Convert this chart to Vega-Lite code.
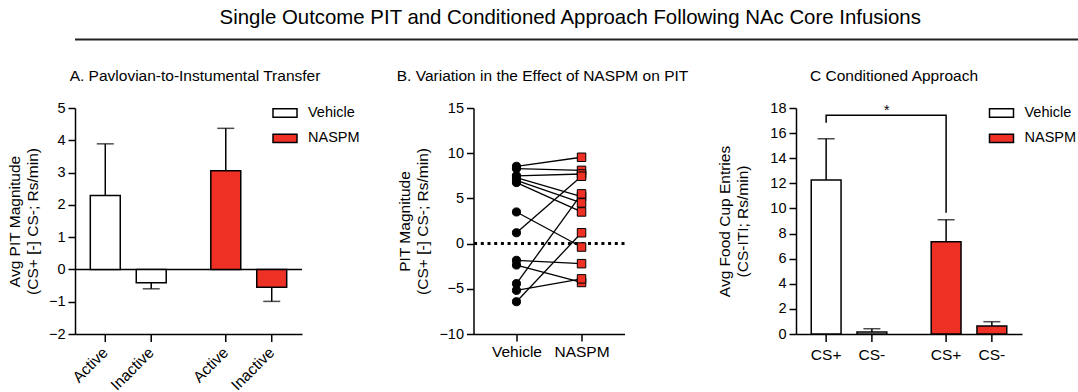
{
  "$schema": "https://vega.github.io/schema/vega-lite/v6.json",
  "background": "white",
  "padding": {"left": 7, "right": 3, "top": 8, "bottom": 0},
  "config": {
    "font": "Liberation Sans",
    "view": {"stroke": null},
    "axis": {
      "domainColor": "black", "domainWidth": 1.5,
      "tickColor": "black", "tickWidth": 1.5, "tickSize": 7,
      "labelColor": "black", "labelFontSize": 14.5, "labelPadding": 3, "labelOverlap": false,
      "titleColor": "black", "titleFontSize": 15.5, "titleFontWeight": "normal",
      "titleLineHeight": 18, "grid": false
    },
    "legend": {
      "orient": "none", "title": null, "padding": 0,
      "symbolType": "M-1,-0.35H1V0.35H-1Z", "symbolSize": 576,
      "symbolStrokeColor": "black", "symbolStrokeWidth": 1.5,
      "labelFontSize": 14.5, "labelColor": "black", "labelOffset": 10, "rowPadding": 4.4
    },
    "title": {"fontWeight": "normal", "color": "black", "fontSize": 15.5}
  },
  "title": {
    "text": "Single Outcome PIT and Conditioned Approach Following NAc Core Infusions",
    "fontSize": 20.4, "anchor": "middle", "dx": -5.5, "offset": 10
  },
  "datasets": {
    "pit": [
      {"treatment": "Vehicle", "lever": "Active", "mean": 2.29, "err": 3.89},
      {"treatment": "Vehicle", "lever": "Inactive", "mean": -0.41, "err": -0.6},
      {"treatment": "NASPM", "lever": "Active", "mean": 3.06, "err": 4.37},
      {"treatment": "NASPM", "lever": "Inactive", "mean": -0.55, "err": -0.99}
    ],
    "pairs": [
      {"subject": 1, "group": "Vehicle", "value": 8.55}, {"subject": 1, "group": "NASPM", "value": 9.55},
      {"subject": 2, "group": "Vehicle", "value": 8.3}, {"subject": 2, "group": "NASPM", "value": 8.1},
      {"subject": 3, "group": "Vehicle", "value": 7.5}, {"subject": 3, "group": "NASPM", "value": 7.7},
      {"subject": 4, "group": "Vehicle", "value": 7.3}, {"subject": 4, "group": "NASPM", "value": 5.2},
      {"subject": 5, "group": "Vehicle", "value": 7.0}, {"subject": 5, "group": "NASPM", "value": 4.5},
      {"subject": 6, "group": "Vehicle", "value": 6.75}, {"subject": 6, "group": "NASPM", "value": 3.5},
      {"subject": 7, "group": "Vehicle", "value": 3.5}, {"subject": 7, "group": "NASPM", "value": -0.38},
      {"subject": 8, "group": "Vehicle", "value": 1.2}, {"subject": 8, "group": "NASPM", "value": 7.45},
      {"subject": 9, "group": "Vehicle", "value": -1.85}, {"subject": 9, "group": "NASPM", "value": -2.22},
      {"subject": 10, "group": "Vehicle", "value": -2.37}, {"subject": 10, "group": "NASPM", "value": -4.3},
      {"subject": 11, "group": "Vehicle", "value": -4.43}, {"subject": 11, "group": "NASPM", "value": 5.5},
      {"subject": 12, "group": "Vehicle", "value": -5.17}, {"subject": 12, "group": "NASPM", "value": -3.9},
      {"subject": 13, "group": "Vehicle", "value": -6.43}, {"subject": 13, "group": "NASPM", "value": 1.2}
    ],
    "approach": [
      {"treatment": "Vehicle", "cue": "CS+", "mean": 12.26, "err": 15.55},
      {"treatment": "Vehicle", "cue": "CS-", "mean": 0.15, "err": 0.42},
      {"treatment": "NASPM", "cue": "CS+", "mean": 7.35, "err": 9.1},
      {"treatment": "NASPM", "cue": "CS-", "mean": 0.64, "err": 0.98}
    ],
    "bracket": [
      {"step": 1, "treatment": "Vehicle", "cue": "CS+", "y": 16.83},
      {"step": 2, "treatment": "Vehicle", "cue": "CS+", "y": 17.43},
      {"step": 3, "treatment": "NASPM", "cue": "CS+", "y": 17.43},
      {"step": 4, "treatment": "NASPM", "cue": "CS+", "y": 9.66}
    ],
    "significance": [
      {"treatment": "Vehicle", "y": 17.43, "label": "*"}
    ]
  },
  "vconcat": [
    {
      "width": 1068,
      "height": 1,
      "data": {"values": [{"divider": "header"}]},
      "mark": {"type": "rule", "color": "#222222", "strokeWidth": 2},
      "encoding": {
        "x": {"datum": 0, "type": "quantitative", "scale": {"domain": [0, 1]}, "axis": null},
        "x2": {"datum": 1}
      }
    },
    {
      "hconcat": [
        {
          "width": 227,
          "height": 226,
          "title": {"text": "A. Pavlovian-to-Instumental Transfer", "frame": "group", "offset": 4, "dx": 6.5, "baseline": "alphabetic"},
          "data": {"name": "pit"},
          "layer": [
            {
              "data": {"values": [{"level": 0}]},
              "mark": {"type": "rule", "color": "black", "strokeWidth": 1.5},
              "encoding": {"y": {"field": "level", "type": "quantitative"}}
            },
            {
              "mark": {"type": "bar", "stroke": "black", "strokeWidth": 1.5},
              "encoding": {
                "x": {"field": "treatment", "type": "nominal",
                      "scale": {"domain": ["Vehicle", "NASPM"], "paddingInner": 0.37, "paddingOuter": 0.127},
                      "axis": {"labels": false, "ticks": false, "title": null}},
                "xOffset": {"field": "lever", "type": "nominal",
                            "scale": {"domain": ["Active", "Inactive"], "paddingInner": 0.348, "paddingOuter": 0}},
                "y": {"field": "mean", "type": "quantitative", "scale": {"domain": [-2, 5], "nice": false},
                      "axis": {"values": [-2, -1, 0, 1, 2, 3, 4, 5], "tickCount": 20, "format": "d", "titlePadding": 8,
                               "title": ["Avg PIT Magnitude", "(CS+ [-] CS-; Rs/min)"]}},
                "y2": {"datum": 0},
                "fill": {"field": "treatment", "type": "nominal",
                         "scale": {"domain": ["Vehicle", "NASPM"], "range": ["white", "#ee3124"]},
                         "legend": {"legendX": 197, "legendY": -8}}
              }
            },
            {
              "mark": {"type": "rule", "color": "black", "strokeWidth": 1.5},
              "encoding": {
                "x": {"field": "treatment", "type": "nominal"},
                "xOffset": {"field": "lever", "type": "nominal"},
                "y": {"field": "mean", "type": "quantitative"},
                "y2": {"field": "err"}
              }
            },
            {
              "mark": {"type": "tick", "orient": "horizontal", "color": "black", "thickness": 1.5, "size": 17},
              "encoding": {
                "x": {"field": "treatment", "type": "nominal"},
                "xOffset": {"field": "lever", "type": "nominal"},
                "y": {"field": "err", "type": "quantitative"}
              }
            },
            {
              "mark": {"type": "rule", "color": "black", "strokeWidth": 1.5, "y2Offset": 8},
              "encoding": {
                "x": {"field": "treatment", "type": "nominal"},
                "xOffset": {"field": "lever", "type": "nominal"},
                "y": {"datum": -2},
                "y2": {"datum": -2}
              }
            },
            {
              "mark": {"type": "text", "angle": 315, "align": "right", "baseline": "middle", "yOffset": 16, "fontSize": 15.5, "color": "black"},
              "encoding": {
                "x": {"field": "treatment", "type": "nominal"},
                "xOffset": {"field": "lever", "type": "nominal"},
                "y": {"datum": -2},
                "text": {"field": "lever"}
              }
            }
          ]
        },
        {
          "width": 151,
          "height": 226,
          "title": {"text": "B. Variation in the Effect of NASPM on PIT", "frame": "group", "offset": 4, "dx": -6.5, "baseline": "alphabetic"},
          "layer": [
            {
              "data": {"values": [{"level": 0}]},
              "mark": {"type": "rule", "color": "black", "strokeWidth": 3, "strokeDash": [3, 3.7]},
              "encoding": {"y": {"field": "level", "type": "quantitative"}}
            },
            {
              "data": {"name": "pairs"},
              "mark": {"type": "line", "color": "black", "strokeWidth": 1.3},
              "encoding": {
                "x": {"field": "group", "type": "nominal",
                      "scale": {"type": "point", "domain": ["Vehicle", "NASPM"], "padding": 0.66},
                      "axis": {"title": null, "labelAngle": 0, "labelFontSize": 15.5}},
                "y": {"field": "value", "type": "quantitative", "scale": {"domain": [-10, 15], "nice": false},
                      "axis": {"values": [-10, -5, 0, 5, 10, 15], "tickCount": 20, "format": "d", "titlePadding": 8,
                               "title": ["PIT Magnitude", "(CS+ [-] CS-; Rs/min)"]}},
                "detail": {"field": "subject", "type": "nominal"}
              }
            },
            {
              "data": {"name": "pairs"},
              "mark": {"type": "point", "filled": true, "opacity": 1, "stroke": "black", "strokeWidth": 1},
              "encoding": {
                "x": {"field": "group", "type": "nominal"},
                "y": {"field": "value", "type": "quantitative"},
                "shape": {"field": "group", "type": "nominal", "scale": {"domain": ["Vehicle", "NASPM"], "range": ["circle", "square"]}, "legend": null},
                "fill": {"field": "group", "type": "nominal", "scale": {"domain": ["Vehicle", "NASPM"], "range": ["black", "#ee3124"]}, "legend": null},
                "size": {"field": "group", "type": "nominal", "scale": {"domain": ["Vehicle", "NASPM"], "range": [66, 72]}, "legend": null}
              }
            }
          ]
        },
        {
          "width": 226,
          "height": 226,
          "title": {"text": "C Conditioned Approach", "frame": "group", "offset": 4, "dx": -15, "baseline": "alphabetic"},
          "data": {"name": "approach"},
          "layer": [
            {
              "mark": {"type": "bar", "stroke": "black", "strokeWidth": 1.5},
              "encoding": {
                "x": {"field": "treatment", "type": "nominal",
                      "scale": {"domain": ["Vehicle", "NASPM"], "paddingInner": 0.37, "paddingOuter": 0.127},
                      "axis": {"labels": false, "ticks": false, "title": null}},
                "xOffset": {"field": "cue", "type": "nominal",
                            "scale": {"domain": ["CS+", "CS-"], "paddingInner": 0.348, "paddingOuter": 0}},
                "y": {"field": "mean", "type": "quantitative", "scale": {"domain": [0, 18], "nice": false},
                      "axis": {"values": [0, 2, 4, 6, 8, 10, 12, 14, 16, 18], "tickCount": 20, "format": "d", "titlePadding": 19,
                               "title": ["Avg Food Cup Entries", "(CS-ITI; Rs/min)"]}},
                "y2": {"datum": 0},
                "fill": {"field": "treatment", "type": "nominal",
                         "scale": {"domain": ["Vehicle", "NASPM"], "range": ["white", "#ee3124"]},
                         "legend": {"legendX": 192.5, "legendY": -8}}
              }
            },
            {
              "mark": {"type": "rule", "color": "black", "strokeWidth": 1.5},
              "encoding": {
                "x": {"field": "treatment", "type": "nominal"},
                "xOffset": {"field": "cue", "type": "nominal"},
                "y": {"field": "mean", "type": "quantitative"},
                "y2": {"field": "err"}
              }
            },
            {
              "mark": {"type": "tick", "orient": "horizontal", "color": "black", "thickness": 1.5, "size": 17},
              "encoding": {
                "x": {"field": "treatment", "type": "nominal"},
                "xOffset": {"field": "cue", "type": "nominal"},
                "y": {"field": "err", "type": "quantitative"}
              }
            },
            {
              "mark": {"type": "rule", "color": "black", "strokeWidth": 1.5, "y2Offset": 8},
              "encoding": {
                "x": {"field": "treatment", "type": "nominal"},
                "xOffset": {"field": "cue", "type": "nominal"},
                "y": {"datum": 0},
                "y2": {"datum": 0}
              }
            },
            {
              "mark": {"type": "text", "align": "center", "baseline": "top", "yOffset": 14, "fontSize": 15.5, "color": "black"},
              "encoding": {
                "x": {"field": "treatment", "type": "nominal"},
                "xOffset": {"field": "cue", "type": "nominal"},
                "y": {"datum": 0},
                "text": {"field": "cue"}
              }
            },
            {
              "data": {"name": "bracket"},
              "mark": {"type": "line", "color": "black", "strokeWidth": 1.5},
              "encoding": {
                "x": {"field": "treatment", "type": "nominal"},
                "xOffset": {"field": "cue", "type": "nominal"},
                "y": {"field": "y", "type": "quantitative"},
                "order": {"field": "step", "type": "quantitative"}
              }
            },
            {
              "data": {"name": "significance"},
              "mark": {"type": "text", "baseline": "alphabetic", "align": "center", "fontSize": 14, "color": "black"},
              "encoding": {
                "x": {"field": "treatment", "type": "nominal", "bandPosition": 1},
                "y": {"field": "y", "type": "quantitative"},
                "text": {"field": "label"}
              }
            }
          ]
        }
      ],
      "spacing": 171.5,
      "bounds": "flush",
      "resolve": {"scale": {"fill": "independent", "xOffset": "independent"}, "legend": {"fill": "independent"}}
    }
  ],
  "spacing": 27
}
